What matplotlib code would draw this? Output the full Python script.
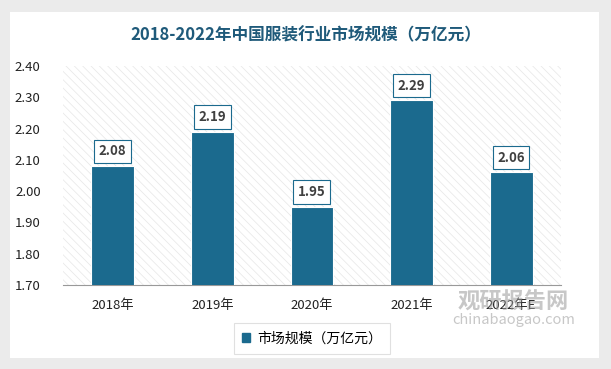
import matplotlib.pyplot as plt
from matplotlib.patches import Rectangle

# DADOS
anos = ['2018年', '2019年', '2020年', '2021年', '2022年E']
valores = [2.08, 2.19, 1.95, 2.29, 2.06]
yticks = [1.70, 1.80, 1.90, 2.00, 2.10, 2.20, 2.30, 2.40]

plt.rcParams['font.family'] = ['Noto Sans CJK SC', 'DejaVu Sans']
plt.rcParams['hatch.linewidth'] = 0.5

cor_barra = '#1b6a8e'
cor_titulo = '#1f5a7a'

fig = plt.figure(figsize=(6.11, 3.69), dpi=100)
fig.patch.set_facecolor('#ebebeb')
fig.patches.append(Rectangle((0.017, 0.03), 0.963, 0.937, transform=fig.transFigure,
                             facecolor='white', edgecolor='none', zorder=-5))

ax = fig.add_axes([0.103, 0.228, 0.815, 0.593])
ax.set_zorder(2)
ax.set_facecolor('white')
ax.add_patch(Rectangle((0, 0), 1, 1, transform=ax.transAxes, facecolor='white',
                       edgecolor='#e6e6e6', hatch='\\\\\\\\', linewidth=0, zorder=0))

x = range(len(anos))
ax.bar(x, valores, width=0.43, color=cor_barra, edgecolor='white', linewidth=0.8, zorder=3)

for xi, v in zip(x, valores):
    ax.text(xi, v + 0.047, f'{v:.2f}', ha='center', va='center', fontsize=9.5,
            fontweight='bold', color='#404040', zorder=4,
            bbox=dict(boxstyle='square,pad=0.35', facecolor='white', edgecolor=cor_barra, linewidth=0.8))

ax.set_ylim(1.70, 2.40)
ax.set_xlim(-0.5, len(anos) - 0.5)
ax.set_yticks(yticks)
ax.set_yticklabels([f'{t:.2f}' for t in yticks], fontsize=9.5, color='#222222')
ax.set_xticks(list(x))
ax.set_xticklabels(anos, fontsize=9.5, color='#222222')
ax.tick_params(axis='both', length=0)
ax.tick_params(axis='y', pad=16)
ax.tick_params(axis='x', pad=10)
for s in ['top', 'right', 'left']:
    ax.spines[s].set_visible(False)
ax.spines['bottom'].set_color('#999999')
ax.spines['bottom'].set_linewidth(0.8)

fig.text(0.5, 0.905, '2018-2022年中国服装行业市场规模（万亿元）', ha='center', va='center',
         fontsize=12, fontweight='bold', color=cor_titulo)

leg = ax.legend([Rectangle((0, 0), 1, 1, color=cor_barra)], ['市场规模（万亿元）'],
                loc='center', bbox_to_anchor=(0.5, -0.245), fontsize=10, frameon=True,
                fancybox=False, handlelength=0.6, handleheight=0.6, borderpad=0.6,
                handletextpad=0.5)
leg.get_frame().set_edgecolor('#d9d9d9')
leg.get_frame().set_linewidth(0.8)

# marca d'agua
fig.text(0.84, 0.182, '观研报告网', ha='center', va='center', fontsize=16,
         fontweight='bold', color='#9a9a9a', alpha=0.55, zorder=5)
fig.text(0.84, 0.133, 'chinabaogao.com', ha='center', va='center', fontsize=10.5,
         color='#9a9a9a', alpha=0.55, zorder=5)

fig.savefig('out.png', dpi=100, facecolor=fig.get_facecolor())
